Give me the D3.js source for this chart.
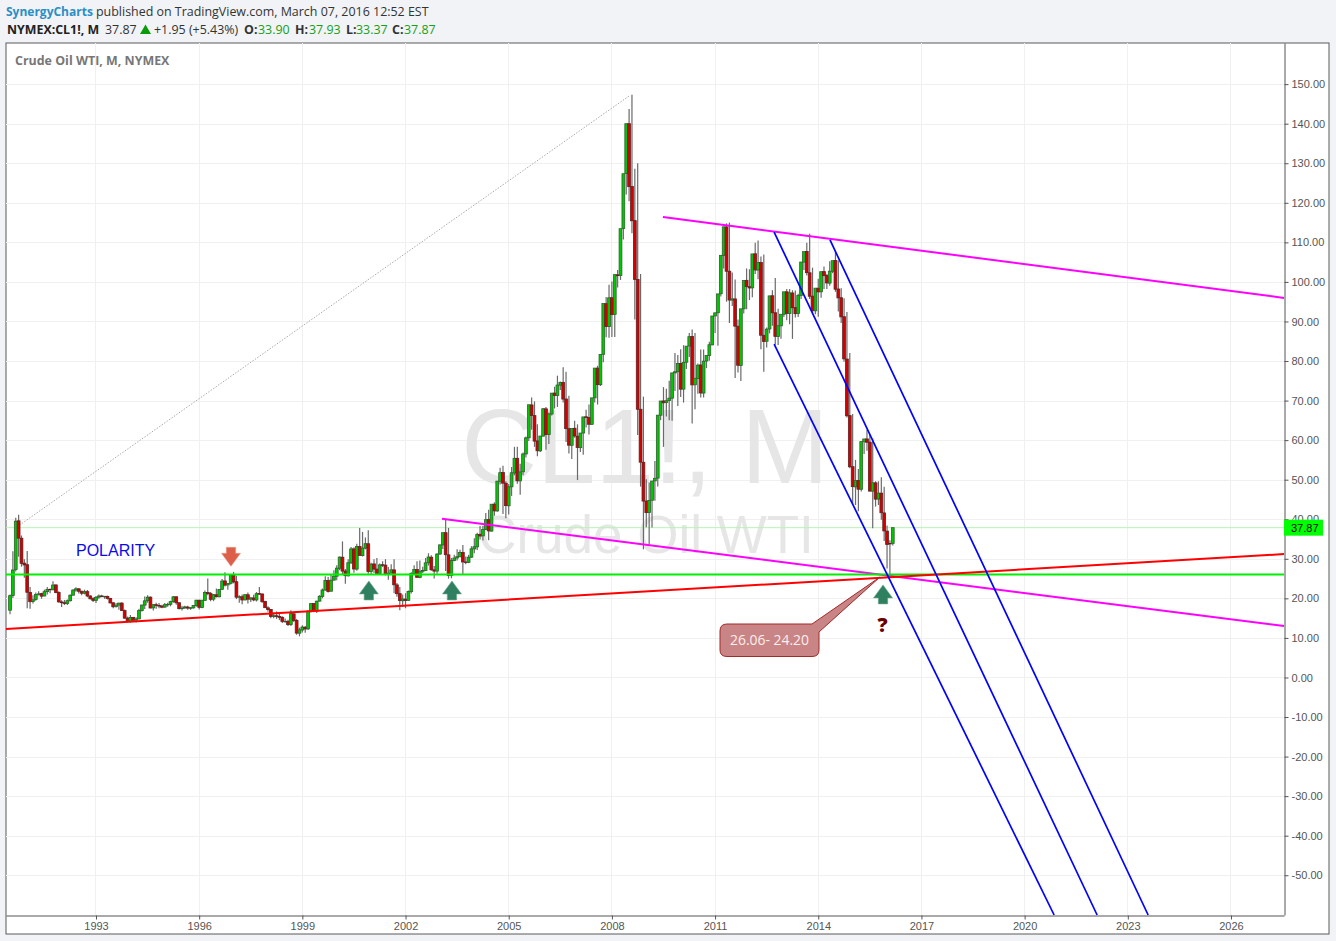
<!DOCTYPE html>
<html><head><meta charset="utf-8">
<script src="https://cdn.jsdelivr.net/npm/d3@7"></script>
<style>
html,body{margin:0;padding:0;background:#f1f3f6;overflow:hidden}
svg{display:block}
.ax text{font-family:"Liberation Sans",Arial,sans-serif;font-size:11px;fill:#555}
.ax path,.ax line{stroke:#555}
.hd{font-family:"Open Sans",sans-serif;font-size:12.45px}
</style></head><body><svg id="c" width="1336" height="941"></svg>
<script>
// Monthly candles, first bar Jul 1990 (month index 6 counted from Jan 1990), last Mar 2016
const firstMonthIndex = 6;
const opens = [
17.0,20.7,27.3,39.6,35.2,28.9,
28.5,21.5,19.2,19.7,21.0,21.2,20.6,21.7,22.3,22.2,23.4,21.5,
19.1,18.9,18.7,19.4,20.8,22.1,22.4,21.8,21.3,21.7,20.6,19.9,
19.5,20.3,20.6,20.4,20.5,20.0,18.9,17.9,18.3,18.8,16.9,15.0,
14.2,15.2,14.5,14.8,16.9,18.3,19.4,20.3,17.6,18.4,18.2,18.05,
17.8,18.4,18.5,19.2,20.4,18.9,17.4,17.6,17.8,17.5,17.6,18.2,
19.5,17.7,19.5,21.5,21.2,19.8,20.9,20.4,22.3,24.4,23.4,23.8,
25.9,24.2,20.3,20.4,19.6,20.9,19.8,20.1,19.6,21.2,21.1,19.2,
17.6,17.2,15.4,15.6,15.4,15.2,14.2,14.2,13.4,16.1,14.4,11.2,
12.0,12.7,12.3,16.8,18.7,16.8,19.3,20.5,22.1,24.5,21.8,24.6,
25.6,27.6,30.4,26.9,25.7,29.0,32.5,27.4,33.1,30.8,32.7,33.8,
26.8,28.7,27.4,26.3,28.5,28.4,26.2,26.4,27.2,23.4,21.2,19.4,
19.8,19.5,21.7,26.3,27.3,25.3,26.9,27.0,29.0,30.4,27.2,26.9,
31.2,33.5,36.6,31.0,25.8,29.6,30.2,30.5,31.6,29.2,29.1,30.4,
32.5,33.0,36.2,35.8,37.4,39.9,37.0,43.8,42.1,49.6,51.8,49.1,
43.4,48.2,51.7,55.4,49.7,52.0,56.5,60.6,68.9,66.2,59.8,57.3,
61.0,67.9,61.4,66.6,71.9,71.3,73.9,74.6,70.4,62.9,58.7,63.0,
61.0,58.1,61.8,65.9,65.7,64.0,70.7,78.2,74.0,81.7,94.5,88.7,
96.0,91.8,101.8,101.6,113.5,127.4,140.0,124.1,115.5,100.6,67.8,54.4,
44.6,41.7,44.8,49.7,50.4,66.3,69.9,69.5,70.0,70.6,77.0,77.3,
79.4,72.9,79.7,83.8,86.2,74.0,75.6,79.0,71.9,80.0,81.4,84.1,
91.4,92.2,97.0,106.7,113.9,102.7,95.4,95.7,88.8,78.9,93.2,100.4,
98.8,98.5,107.1,103.0,104.9,86.5,85.0,88.1,96.5,92.2,86.2,88.9,
91.8,97.5,92.0,97.2,93.5,92.0,96.6,105.0,107.7,102.3,96.4,92.7,
98.4,97.5,102.6,101.6,99.7,102.7,105.4,98.2,96.0,91.2,80.5,66.2,
53.3,48.2,49.8,47.6,59.6,60.3,59.5,47.1,49.2,45.1,46.6,41.6,
37.0,33.9,33.90];
const highs = [
21.0,31.9,40.4,41.15,35.9,29.9,
32.0,22.9,20.8,21.5,21.8,21.4,22.2,22.9,22.4,24.3,23.5,21.8,
19.5,19.6,19.7,21.0,22.3,22.8,22.6,21.9,22.2,22.1,20.8,20.3,
20.6,21.0,20.9,20.6,20.7,20.1,18.9,18.8,18.9,19.0,17.2,15.4,
15.8,15.3,15.2,17.4,18.4,20.5,20.8,20.5,18.6,18.9,18.8,18.4,
18.8,18.9,19.4,20.6,20.5,18.9,18.1,18.1,18.1,17.8,18.3,19.6,
19.7,19.5,22.0,25.0,21.6,21.1,22.5,22.3,24.9,26.6,23.9,25.9,
26.7,25.7,20.8,21.0,20.9,21.5,20.2,20.9,21.6,22.9,21.2,19.4,
18.0,17.3,16.4,16.7,16.2,15.5,14.9,14.6,17.0,16.2,14.8,12.6,
13.2,13.0,16.9,18.8,18.7,19.4,20.8,22.5,25.6,25.4,26.0,27.1,
28.4,30.6,34.4,27.4,29.9,33.0,32.9,33.8,37.8,36.8,35.4,37.2,
29.0,29.9,30.2,28.8,29.4,29.9,27.9,28.6,29.9,23.9,22.9,21.0,
21.3,22.0,26.6,28.4,29.4,29.6,28.0,30.2,31.4,30.9,28.2,31.4,
33.6,35.6,39.99,37.8,30.2,31.0,32.4,32.3,33.5,30.6,31.0,33.2,
35.2,36.6,38.3,38.3,41.6,42.4,39.6,44.3,46.6,53.0,53.5,49.6,
48.9,53.2,58.3,58.3,54.0,56.9,60.9,62.3,70.8,69.8,64.0,61.0,
68.1,68.4,67.0,69.2,73.5,76.3,74.8,78.4,77.3,71.2,62.6,64.9,
64.0,60.6,62.5,67.7,69.0,70.3,74.5,78.8,79.8,83.9,96.2,99.3,
100.1,100.0,103.0,111.8,119.9,135.1,143.7,147.3,128.6,130.0,102.0,71.0,
50.1,49.3,45.0,54.7,54.0,66.9,73.4,73.0,75.0,74.8,82.0,81.5,
83.0,84.0,80.9,87.1,88.0,87.1,79.4,82.9,82.9,80.5,84.9,89.8,
92.1,92.6,103.4,106.95,114.8,115.0,102.4,100.6,90.5,92.0,94.6,103.4,
103.2,103.7,109.9,110.5,106.4,106.9,88.5,92.9,97.9,101.0,93.2,90.5,
91.9,98.2,98.2,97.9,97.8,97.0,99.0,105.6,109.9,112.2,103.6,96.9,
100.8,98.8,103.9,102.0,105.2,104.4,107.7,105.4,98.4,95.9,92.4,82.0,
66.6,55.0,52.7,54.2,59.9,62.6,61.5,60.4,49.6,49.6,50.6,48.2,
38.4,34.7,37.93];
const lows = [
16.0,20.1,26.8,30.5,28.0,25.2,
17.5,17.4,18.7,19.4,20.7,19.9,20.5,21.0,21.3,22.0,21.3,18.9,
17.8,18.3,18.3,19.2,20.7,21.7,21.2,20.8,21.0,20.3,19.7,19.1,
18.8,19.9,20.3,19.9,19.7,18.7,17.5,17.7,17.1,16.8,14.9,13.9,
13.9,14.1,13.9,14.7,16.7,17.3,18.9,17.5,16.9,17.4,17.5,17.5,
17.6,17.9,18.0,18.9,18.4,17.2,16.9,17.3,17.1,17.1,17.4,17.9,
17.2,17.5,19.4,20.8,19.3,19.3,20.2,20.3,22.1,23.0,22.2,23.5,
23.8,19.8,18.9,18.5,19.5,18.7,19.1,19.3,19.2,20.9,18.9,17.6,
16.6,15.0,15.0,14.8,14.5,13.8,13.9,13.0,13.0,14.0,10.8,10.4,
11.4,11.3,12.0,16.4,16.5,16.3,19.2,20.0,21.9,21.5,21.8,24.6,
24.6,27.1,26.0,23.7,25.5,28.7,26.5,27.0,32.8,30.6,32.4,26.2,
25.9,26.4,25.9,25.9,27.9,25.8,24.7,26.2,21.3,20.4,17.0,17.8,
17.5,19.4,21.2,25.9,25.9,25.1,26.4,26.9,28.3,27.0,25.0,26.2,
31.0,32.5,26.9,25.0,25.1,29.4,29.6,30.5,25.9,28.6,28.9,30.3,
31.4,32.2,34.9,34.6,37.3,34.7,36.9,40.9,41.9,48.8,41.3,40.25,
41.2,45.9,51.1,49.0,46.2,51.1,55.6,59.8,62.6,58.3,55.9,57.0,
61.0,57.6,59.0,66.2,68.0,68.4,72.7,69.5,59.5,56.6,55.2,60.6,
49.9,57.0,56.3,63.2,61.4,63.9,69.5,69.0,73.7,79.7,86.0,85.9,
86.1,86.1,98.6,100.5,110.7,122.1,120.4,112.3,90.5,61.3,48.25,32.4,
38.0,33.55,37.9,44.7,48.3,65.0,58.3,66.0,65.0,64.9,72.4,68.6,
70.9,69.5,78.0,81.0,64.2,67.8,71.7,70.8,70.8,78.2,80.1,84.0,
87.1,83.85,96.3,103.4,95.0,89.6,93.9,75.7,77.1,74.95,92.0,93.1,
95.4,96.1,102.0,100.7,83.0,77.3,83.4,87.0,88.9,84.1,84.05,85.6,
91.1,90.3,89.3,85.6,91.0,91.1,95.7,103.0,101.6,95.7,92.0,91.8,
91.2,96.0,98.2,98.2,99.0,102.2,97.5,92.5,89.6,79.8,65.7,52.9,
43.6,43.6,42.0,47.0,56.5,57.3,47.0,37.75,43.2,43.6,39.9,34.5,
27.56,26.05,33.37];
const closes = [
20.69,27.17,39.51,35.23,28.85,28.44,
21.54,19.16,19.63,20.96,21.13,20.56,21.68,22.26,22.23,23.37,21.48,19.12,
18.9,18.7,19.4,20.8,22.1,22.4,21.8,21.3,21.7,20.6,19.9,19.5,
20.26,20.6,20.44,20.53,20.0,18.85,17.88,18.29,18.79,16.92,15.0,14.17,
15.19,14.48,14.79,16.9,18.31,19.37,20.3,17.56,18.39,18.19,18.05,17.76,
18.39,18.49,19.17,20.38,18.89,17.4,17.56,17.84,17.54,17.64,18.18,19.55,
17.74,19.54,21.47,21.2,19.76,20.92,20.42,22.25,24.38,23.35,23.75,25.92,
24.15,20.3,20.41,19.6,20.93,19.8,20.14,19.61,21.18,21.08,19.15,17.64,
17.21,15.44,15.61,15.39,15.2,14.18,14.21,13.36,16.14,14.42,11.22,12.05,
12.75,12.27,16.76,18.66,16.84,19.29,20.53,22.11,24.51,21.75,24.59,25.6,
27.64,30.43,26.9,25.74,29.01,32.5,27.43,33.12,30.84,32.7,33.82,26.8,
28.66,27.39,26.29,28.46,28.37,26.25,26.35,27.2,23.43,21.18,19.44,19.84,
19.48,21.74,26.31,27.29,25.31,26.86,27.02,28.98,30.45,27.22,26.89,31.2,
33.51,36.6,31.04,25.8,29.56,30.19,30.54,31.57,29.2,29.11,30.41,32.52,
33.05,36.16,35.76,37.38,39.88,37.05,43.8,42.12,49.64,51.76,49.13,43.45,
48.2,51.75,55.4,49.72,51.97,56.5,60.57,68.94,66.24,59.76,57.32,61.04,
67.92,61.41,66.63,71.88,71.29,73.93,74.56,70.38,62.91,58.73,62.97,61.05,
58.14,61.79,65.87,65.71,64.01,70.68,78.21,74.04,81.66,94.53,88.71,95.98,
91.75,101.84,101.58,113.46,127.35,140.0,124.08,115.46,100.64,67.81,54.43,44.6,
41.68,44.76,49.66,50.35,66.31,69.89,69.45,69.96,70.61,77.0,77.28,79.36,
72.89,79.66,83.76,86.15,73.97,75.63,78.95,71.92,79.97,81.43,84.11,91.38,
92.19,96.97,106.72,113.93,102.7,95.42,95.7,88.81,78.93,93.19,100.36,98.83,
98.48,107.07,103.02,104.87,86.53,84.96,88.06,96.47,92.19,86.24,88.91,91.82,
97.49,92.05,97.23,93.46,91.97,96.56,105.03,107.65,102.33,96.38,92.72,98.42,
97.49,102.59,101.58,99.74,102.71,105.37,98.17,95.96,91.16,80.54,66.15,53.27,
48.24,49.76,47.6,59.63,60.3,59.47,47.12,49.2,45.09,46.59,41.65,37.04,
33.62,33.75,37.87];

const yearLabels = [1993,1996,1999,2002,2005,2008,2011,2014,2017,2020,2023,2026];
const priceTicks = [150,140,130,120,110,100,90,80,70,60,50,40,30,20,10,0,-10,-20,-30,-40,-50];
const lastPrice = 37.87;
const polarityLevel = 26.06;
// drawn lines: month index and price at both ends
const lineStarts = {red:[4.6,12.26], magentaTop:[233.8,116.4], magentaLow:[156.7,40.1], blueLow:[272.6,84.3], blueMid:[272.6,112.6], blueUp:[292.1,110.6], dotted:[8.4,38.05]};
const lineEnds   = {red:[450.5,31.2], magentaTop:[450.5,95.96], magentaLow:[450.5,13.0], blueLow:[370.3,-60.05], blueMid:[385.3,-60.05], blueUp:[403.1,-60.05], dotted:[222,147.0]};
// arrow marks: month index and centre price
const upArrows = [[131.2,22.0],[160.2,22.0],[310.6,21.0]];
const downArrows = [[83.1,30.5]];

const L=6,R=1284,T=43,B=915,OR=1329,OB=934;
const xIdx = d3.scaleLinear().domain([4.6,450.5]).range([L,R]);
const y = d3.scaleLinear().domain([160.4,-60.05]).range([T,B]);
const svg = d3.select('#c');
const monthOfYear = yr => (yr-1990)*12;

svg.append('rect').attr('x',L).attr('y',T).attr('width',OR-L).attr('height',OB-T).attr('fill','#fff').attr('stroke','#5a5a5a').attr('stroke-width',1);

// grid
svg.append('g').selectAll('line').data(priceTicks).join('line')
 .attr('x1',L).attr('x2',R).attr('y1',d=>Math.round(y(d))+.5).attr('y2',d=>Math.round(y(d))+.5).attr('stroke','#f0f0f0');
svg.append('g').selectAll('line').data(yearLabels).join('line')
 .attr('y1',T).attr('y2',B).attr('x1',d=>Math.floor(xIdx(monthOfYear(d)))+.5).attr('x2',d=>Math.floor(xIdx(monthOfYear(d)))+.5).attr('stroke','#f0f0f0');

// watermark
svg.append('text').attr('x',645).attr('y',483).attr('text-anchor','middle').attr('font-family','Liberation Sans').attr('font-size',105).attr('fill','#e6e6e6').text('CL1!, M');
svg.append('text').attr('x',646).attr('y',553).attr('text-anchor','middle').attr('font-family','Liberation Sans').attr('font-size',53).attr('fill','#e6e6e6').text('Crude Oil WTI');

// last-price line
svg.append('line').attr('x1',L).attr('x2',R).attr('y1',y(lastPrice)).attr('y2',y(lastPrice)).attr('stroke','#b5f5b5').attr('stroke-width',1);

// dotted line under candles
const seg=(k)=>({x1:xIdx(lineStarts[k][0]),y1:y(lineStarts[k][1]),x2:xIdx(lineEnds[k][0]),y2:y(lineEnds[k][1])});
const drawSeg=(k,c,w,dash)=>{const s=seg(k);svg.append('line').attr('x1',s.x1).attr('y1',s.y1).attr('x2',s.x2).attr('y2',s.y2).attr('stroke',c).attr('stroke-width',w).attr('stroke-dasharray',dash||null);};
drawSeg('dotted','#aaa',1,'1.5 1.5');

// candles
const bars = closes.map((c,i)=>({i:firstMonthIndex+i,o:opens[i],h:highs[i],l:lows[i],c}));
svg.append('g').selectAll('line').data(bars).join('line')
 .attr('x1',d=>xIdx(d.i)).attr('x2',d=>xIdx(d.i)).attr('y1',d=>y(d.h)).attr('y2',d=>y(d.l)).attr('stroke','#6a6a6a').attr('stroke-width',1.2);
svg.append('g').selectAll('rect').data(bars).join('rect')
 .attr('x',d=>xIdx(d.i)-1.4).attr('width',2.8)
 .attr('y',d=>y(Math.max(d.o,d.c))).attr('height',d=>Math.max(.6,Math.abs(y(d.o)-y(d.c))))
 .attr('fill',d=>d.c>=d.o?'#00c800':'#d40000').attr('stroke',d=>d.c>=d.o?'#2f5f2f':'#5f2020').attr('stroke-width',.8);

// trend lines
drawSeg('magentaTop','#ff00ff',2);
drawSeg('magentaLow','#ff00ff',2);
svg.append('line').attr('x1',L).attr('x2',R).attr('y1',y(polarityLevel)).attr('y2',y(polarityLevel)).attr('stroke','#00ee00').attr('stroke-width',2);
drawSeg('red','#ff0000',2);
drawSeg('blueLow','#0000ff',1.7);
drawSeg('blueMid','#0000ff',1.7);
drawSeg('blueUp','#0000ff',1.7);

// arrows
const arrowPath = dir => { const h=dir*9.5; const n=dir*3.5; return `M0,${-h}L9.5,${n}L4.7,${n}L4.7,${h}L-4.7,${h}L-4.7,${n}L-9.5,${n}Z`; };
svg.append('g').selectAll('path').data(upArrows).join('path')
 .attr('transform',d=>`translate(${xIdx(d[0])},${y(d[1])})`).attr('d',arrowPath(1)).attr('fill','#2f8060').attr('stroke','#6fa78f').attr('stroke-width',.6).attr('stroke-linejoin','round');
svg.append('g').selectAll('path').data(downArrows).join('path')
 .attr('transform',d=>`translate(${xIdx(d[0])},${y(d[1])})`).attr('d',arrowPath(-1)).attr('fill','#dc5f4a').attr('stroke','#ec9a8c').attr('stroke-width',.6).attr('stroke-linejoin','round');

// callout
svg.append('path').attr('d','M727,624H812L880,577L819,632V650Q819,656.5 812,656.5H727Q720,656.5 720,650V631Q720,624 727,624Z')
 .attr('fill','#c98585').attr('stroke','#a12a2a').attr('stroke-width',1);
svg.append('text').attr('x',769.5).attr('y',644.5).attr('text-anchor','middle').attr('font-family','Open Sans').attr('font-size',13.9).attr('fill','#fbeeee').text('26.06- 24.20');
svg.append('text').attr('x',882.5).attr('y',632).attr('text-anchor','middle').attr('font-family','Open Sans').attr('font-weight',800).attr('font-size',20).attr('fill','#6b0000').text('?');
svg.append('text').attr('x',76).attr('y',555.5).attr('font-family','Liberation Sans').attr('font-size',16).attr('fill','#0a0aee').text('POLARITY');

// axes
const yAxis = d3.axisRight(y).tickValues(priceTicks).tickSize(4).tickSizeOuter(0).tickPadding(3).tickFormat(d=>d.toFixed(2));
svg.append('g').attr('class','ax').attr('transform',`translate(${R}.5,0)`).call(yAxis);
const xAxis = d3.axisBottom(xIdx).tickValues(yearLabels.map(monthOfYear)).tickSize(4).tickSizeOuter(0).tickPadding(3).tickFormat((d,i)=>yearLabels[i]);
svg.append('g').attr('class','ax').attr('transform',`translate(0,${B}.5)`).call(xAxis);

// last-price tag
svg.append('rect').attr('x',R).attr('y',y(lastPrice)-8).attr('width',39).attr('height',16).attr('fill','#00ff00');
svg.append('text').attr('x',1291).attr('y',y(lastPrice)+4).attr('font-family','Liberation Sans').attr('font-size',11).attr('fill','#000').text(lastPrice.toFixed(2));

// header
const put=(x,yy,s,fill,bold)=>svg.append('text').attr('class','hd').attr('x',x).attr('y',yy).attr('fill',fill).attr('font-weight',bold?700:400).text(s);
put(6,16,'SynergyCharts','#2a8fc4',true).style('font-size','12px');
put(96,16,'published on TradingView.com, March 07, 2016 12:52 EST','#333');
put(7,34,'NYMEX:CL1!, M','#222',true).style('font-size','12.4px');
put(105,34,'37.87','#333');
svg.append('path').attr('d','M145.5,24.5L151,34H140Z').attr('fill','#0a9a0a');
put(154,34,'+1.95 (+5.43%)','#333');
[[244,258,'O:','33.90'],[295,309,'H:','37.93'],[346,356,'L:','33.37'],[392,404,'C:','37.87']].forEach(([a,b,k,v])=>{
 put(a,34,k,'#333',true); put(b,34,v,'#16a016');
});
put(15,65,'Crude Oil WTI, M, NYMEX','#777',true);
</script></body></html>
